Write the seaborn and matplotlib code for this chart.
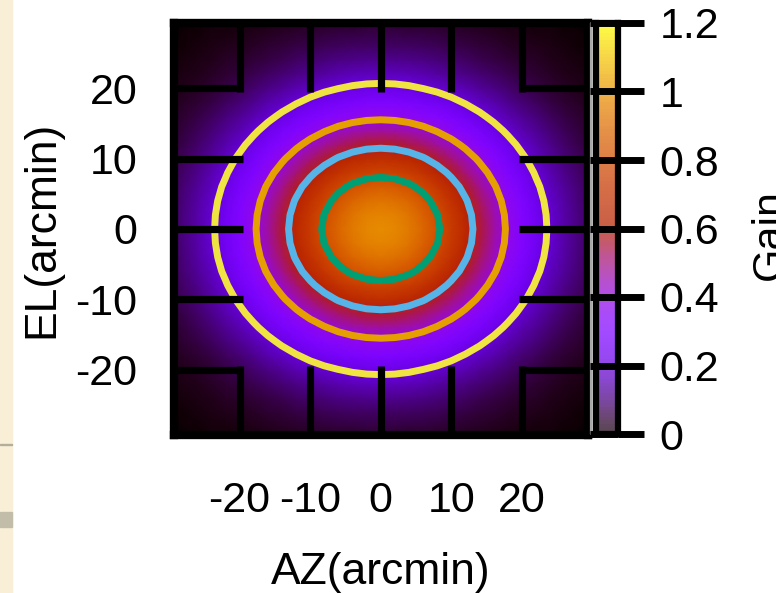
import numpy as np
import pandas as pd
import matplotlib
matplotlib.use("Agg")
import matplotlib.pyplot as plt
import seaborn as sns
from matplotlib.patches import Rectangle

# ---------------- data ----------------
az_arcmin = list(range(-30, 31, 2))
el_arcmin = list(range(-30, 31, 2))
# gain cut along AZ (EL = 0)
gain_az_cut = [0.074, 0.103, 0.140, 0.187, 0.244, 0.310, 0.386, 0.470, 0.558, 0.648,
               0.735, 0.815, 0.884, 0.936, 0.969, 0.980, 0.969, 0.936, 0.884, 0.815,
               0.735, 0.648, 0.558, 0.470, 0.386, 0.310, 0.244, 0.187, 0.140, 0.103, 0.074]
# gain cut along EL (AZ = 0)
gain_el_cut = [0.034, 0.053, 0.079, 0.115, 0.162, 0.221, 0.294, 0.378, 0.473, 0.574,
               0.676, 0.772, 0.858, 0.923, 0.965, 0.980, 0.965, 0.923, 0.858, 0.772,
               0.676, 0.574, 0.473, 0.378, 0.294, 0.221, 0.162, 0.115, 0.079, 0.053, 0.034]
peak_gain = 0.980

contour_levels = [0.2, 0.4, 0.6, 0.8]
contour_colors = ["#f0e442", "#e69f00", "#56b4e9", "#009e73"]

axis_ticks = [-20, -10, 0, 10, 20]
axis_tick_labels = ["-20", "-10", "0", "10", "20"]
gain_ticks = [0, 0.2, 0.4, 0.6, 0.8, 1.0, 1.2]
gain_tick_labels = ["0", "0.2", "0.4", "0.6", "0.8", "1", "1.2"]
gain_min, gain_max = 0.0, 1.2

# ---------------- style ----------------
sns.set_theme(style="white")
plt.rcParams["font.family"] = ["Liberation Sans", "DejaVu Sans"]
plt.rcParams["axes.unicode_minus"] = False
plt.rcParams["text.color"] = "black"
plt.rcParams["axes.labelcolor"] = "black"
plt.rcParams["xtick.color"] = "black"
plt.rcParams["ytick.color"] = "black"

W, H = 776, 593
fig = plt.figure(figsize=(W / 100, H / 100), dpi=100)
fig.patch.set_facecolor("white")


def rect(x0, y0, x1, y1):
    return [x0 / W, 1 - y1 / H, (x1 - x0) / W, (y1 - y0) / H]


# parchment strip on the left edge
fig.add_artist(Rectangle((0, 0), 12 / W, 1, transform=fig.transFigure,
                         color="#f8efd6", zorder=-5))
fig.add_artist(Rectangle((0, 1 - 445 / H), 12 / W, 1.5 / H, transform=fig.transFigure,
                         color="#b3ad9b", zorder=-4))
fig.add_artist(Rectangle((0, 1 - 527 / H), 12 / W, 15 / H, transform=fig.transFigure,
                         color="#c2bda9", zorder=-4))

# ---------------- main map ----------------
ax = fig.add_axes(rect(174, 23, 587.5, 435))
gain_map = np.outer(np.array(gain_el_cut), np.array(gain_az_cut)) / peak_gain
AZ, EL = np.meshgrid(az_arcmin, el_arcmin)
ax.pcolormesh(AZ, EL, gain_map, cmap="gnuplot", vmin=gain_min, vmax=gain_max,
              shading="gouraud", zorder=0)
ax.contour(AZ, EL, gain_map, levels=contour_levels, colors=contour_colors,
           linewidths=5, zorder=1)
ax.set_xlim(-29.3, 29.3)
ax.set_ylim(-29.3, 29.3)
ax.set_xticks(axis_ticks)
ax.set_xticklabels(axis_tick_labels)
ax.set_yticks(axis_ticks)
ax.set_yticklabels(axis_tick_labels)
ax.set_axisbelow(False)
ax.tick_params(direction="in", length=50, width=5.2, top=True, right=True,
               bottom=True, left=True, labeltop=False, labelright=False,
               labelbottom=True, labelleft=True,
               labelsize=31, color="black", labelcolor="black")
ax.tick_params(axis="x", pad=33)
ax.tick_params(axis="y", pad=26.5)
for s in ax.spines.values():
    s.set_linewidth(6)
    s.set_color("black")
    s.set_visible(True)
ax.set_xlabel("AZ(arcmin)", fontsize=32)
ax.xaxis.set_label_coords(0.5, -0.284)
ax.set_ylabel("EL(arcmin)", fontsize=32)
ax.yaxis.set_label_coords(-0.271, 0.5)

# ---------------- colour box ----------------
n_cb = 120
cb_column = pd.DataFrame({"gain": gain_max - (np.arange(n_cb) + 0.5) * (gain_max - gain_min) / n_cb})
cax = fig.add_axes(rect(595.5, 23, 617.5, 434))
sns.heatmap(cb_column, ax=cax, cmap="gnuplot", vmin=gain_min, vmax=gain_max,
            cbar=False, xticklabels=False, yticklabels=False, alpha=0.72)
cb_pos = [(gain_max - v) / (gain_max - gain_min) * n_cb for v in gain_ticks]
cax.set_ylim(n_cb, 0)
cax.set_yticks(cb_pos)
cax.set_yticklabels(gain_tick_labels, rotation=0)
cax.yaxis.tick_right()
cax.set_xlabel("")
cax.set_ylabel("")
cax.tick_params(axis="y", right=True, left=False, direction="out", length=18.4,
                width=5, labelsize=31, pad=12, color="black", labelcolor="black")
cax.tick_params(axis="x", bottom=False, top=False)
for s in cax.spines.values():
    s.set_visible(True)
    s.set_linewidth(4.5)
    s.set_color("black")
ytrans = cax.get_yaxis_transform()
cax.plot([-0.2, -0.2], [0, n_cb], transform=ytrans, color="#a8a8a8", lw=1.6,
         clip_on=False, zorder=4)
cax.hlines(cb_pos, -0.25, 1.0, transform=ytrans, colors="black", lw=5,
           clip_on=False, zorder=5)

fig.text(750 / W, 1 - 235 / H, "Gain", rotation=90, ha="left", va="center",
         fontsize=31, color="black")

fig.savefig("out.png", dpi=100)
